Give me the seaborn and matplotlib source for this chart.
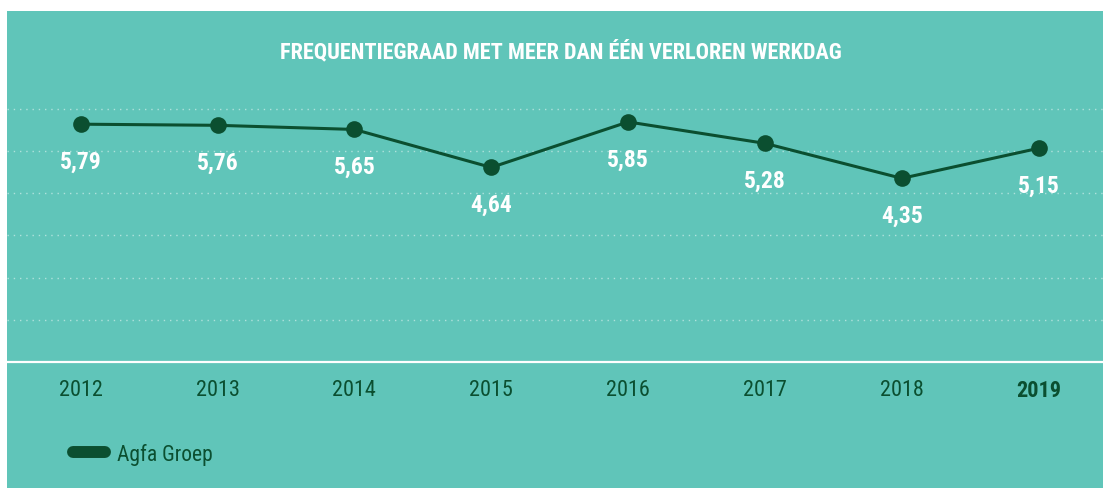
import matplotlib
matplotlib.use("Agg")
import matplotlib.pyplot as plt
from matplotlib.patches import Rectangle
from matplotlib.lines import Line2D
import seaborn as sns
import pandas as pd

# ---- data ----
years = ["2012", "2013", "2014", "2015", "2016", "2017", "2018", "2019"]
values = [5.79, 5.76, 5.65, 4.64, 5.85, 5.28, 4.35, 5.15]
series_name = "Agfa Groep"
title = "FREQUENTIEGRAAD MET MEER DAN ÉÉN VERLOREN WERKDAG"

# ---- style ----
TEAL = "#60c5b9"
DARK = "#0b4f30"
FONT = ["Roboto Condensed", "Roboto", "DejaVu Sans"]

sns.set_theme(style="white")
plt.rcParams["font.family"] = FONT

W, H = 1103, 489
fig = plt.figure(figsize=(W / 100, H / 100), dpi=100)
fig.patch.set_facecolor("white")
fig.patches.append(Rectangle((7 / W, 0), 1 - 7 / W, (H - 12) / H,
                             transform=fig.transFigure, facecolor=TEAL,
                             edgecolor="none", zorder=-10))

# axes: baseline at y=363px, top at 90px, full panel width
ax_bottom = (H - 363) / H
ax_top = (H - 90) / H
ax = fig.add_axes([7 / W, ax_bottom, (W - 7) / W, ax_top - ax_bottom])
ax.set_facecolor("none")
ax.set_zorder(5)

df = pd.DataFrame({"idx": range(len(years)), "year": years, "value": values})
sns.lineplot(data=df, x="idx", y="value", ax=ax, color=DARK, linewidth=2.2,
             marker="o", markersize=12, markeredgewidth=0,
             markerfacecolor=DARK, zorder=5, legend=False)

# scale
ylo = -0.533
step = 1.122
ax.set_ylim(ylo, ylo + step * (363 - 90) / 42.2)
ax.set_xlim(-0.5385, 7.4697)

for k in range(1, 7):
    ax.axhline(ylo + step * k, color="white", alpha=0.5, linewidth=1.0,
               linestyle=(0, (1, 3.5)), zorder=1)

for s in ["top", "left", "right"]:
    ax.spines[s].set_visible(False)
ax.spines["bottom"].set_color("white")
ax.spines["bottom"].set_linewidth(1.6)

ax.set_yticks([])
ax.set_xticks(range(len(years)))
ax.set_xticklabels(years)
ax.tick_params(axis="x", length=0, pad=12.5, labelsize=16, labelcolor=DARK)
for t in ax.get_xticklabels():
    t.set_family(FONT)
ax.get_xticklabels()[-1].set_fontweight("bold")
ax.set_xlabel("")
ax.set_ylabel("")

for i, v in enumerate(values):
    ax.annotate(f"{v:.2f}".replace(".", ","), (i, v), xytext=(0, -37),
                textcoords="offset pixels", ha="center", va="center",
                color="white", fontsize=17, fontweight="bold", zorder=6)

fig.text(561 / W, (H - 52) / H, title, ha="center", va="center",
         color="white", fontsize=16, fontweight="bold")

handle = Line2D([0], [0], color=DARK, linewidth=8.6, solid_capstyle="round")
fig.legend([handle], [series_name], loc="center left",
           bbox_to_anchor=(73 / W, (H - 455) / H), frameon=False,
           borderpad=0, borderaxespad=0, handlelength=1.49,
           handletextpad=0.55, prop={"size": 15.5, "family": FONT},
           labelcolor=DARK)

fig.savefig("out.png", dpi=100, facecolor=fig.get_facecolor())
